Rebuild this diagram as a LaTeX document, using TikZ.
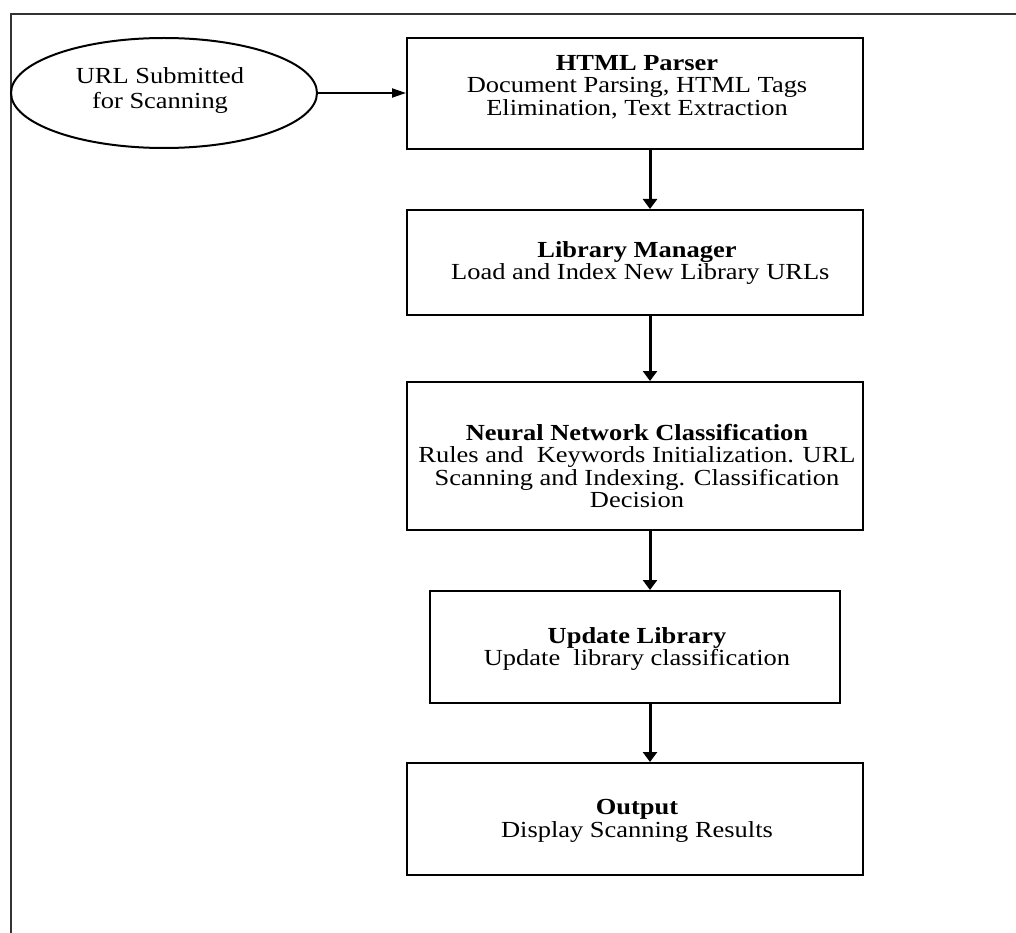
\documentclass[tikz,border=0pt]{standalone}
\usepackage{fontspec}
\setmainfont[FakeStretch=1.15]{Liberation Serif}
\usetikzlibrary{arrows.meta,shapes.geometric}
\begin{document}
\begin{tikzpicture}[x=1pt,y=-1pt,
  txt/.style={align=center,inner sep=0pt,font=\fontsize{23}{22.5}\selectfont},
  box/.style={draw,line width=2pt,inner sep=0pt},
  flow/.style={line width=3pt,-{Triangle[length=10pt,width=14pt]}},
  hflow/.style={line width=2pt,-{Triangle[length=14pt,width=9pt]}},
  frame/.style={line width=2pt,draw=black!80}]
\useasboundingbox (0,0) rectangle (1016,933);
\draw[frame] (11,933) -- (11,14) -- (1016,14);
\coordinate (ax) at (650,0);
% start ellipse
\node[box,ellipse,minimum width=306pt,minimum height=110pt] (url) at (164,93) {};
\node[txt,font=\fontsize{23}{25}\selectfont] (urlt) at (160,91) {URL Submitted\\for Scanning};
% boxes
\node[box,minimum width=456pt,minimum height=111pt] (html) at (635,93.5) {};
\node[txt] (htmlt) at (637,87) {\textbf{HTML Parser}\\Document Parsing, HTML Tags\\Elimination, Text Extraction};
\node[box,minimum width=456pt,minimum height=105pt] (lib) at (635,262.5) {};
\node[txt] (libt) at (637,263) {\textbf{Library Manager}\\\ Load and Index New Library URLs};
\node[box,minimum width=456pt,minimum height=148pt] (nn) at (635,456) {};
\node[txt] (nnt) at (637,466) {\textbf{Neural Network Classification}\\Rules and\ \ Keywords Initialization. URL\\Scanning and Indexing. Classification\\Decision};
\node[box,minimum width=410pt,minimum height=112pt] (upd) at (635,647) {};
\node[txt] (updt) at (637,649) {\textbf{Update Library}\\Update\ \ library classification};
\node[box,minimum width=456pt,minimum height=112pt] (out) at (635,819) {};
\node[txt] (outt) at (637,821) {\textbf{Output}\\Display Scanning Results};
% connectors
\draw[hflow] (url) -- (url -| html.west);
\draw[flow] (html.south -| ax) -- (lib.north -| ax);
\draw[flow] (lib.south -| ax) -- (nn.north -| ax);
\draw[flow] (nn.south -| ax) -- (upd.north -| ax);
\draw[flow] (upd.south -| ax) -- (out.north -| ax);
\end{tikzpicture}
\end{document}
